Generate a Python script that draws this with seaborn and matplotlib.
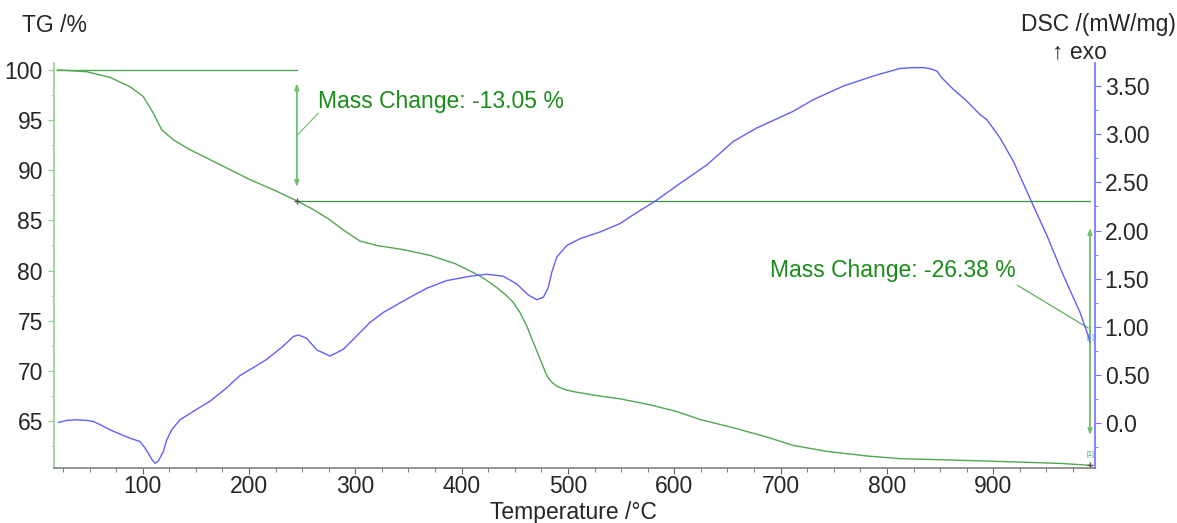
import numpy as np
import pandas as pd
import matplotlib
matplotlib.use("Agg")
import matplotlib.pyplot as plt
from matplotlib.ticker import MultipleLocator, FixedLocator, FuncFormatter
import seaborn as sns

# ---------------- data ----------------
tg_temp = [19.4, 22.3, 47.3, 69.2, 88.0, 100.6, 110.0, 117.9, 128.8, 144.5, 169.6, 200.9,
           226.1, 245.0, 257.6, 274.6, 290.3, 304.4, 320.1, 343.6, 370.3, 393.8, 404.8,
           417.3, 425.1, 433.0, 440.8, 448.6, 454.9, 461.2, 467.4, 473.8, 476.9, 480.1,
           484.8, 489.5, 497.3, 505.1, 527.1, 549.0, 577.3, 602.4,
           624.3, 655.6, 687.0, 712.0, 743.5, 781.1, 812.4, 859.5, 922.2, 964.5, 991.0]
tg_mass = [100.0, 100.0, 99.83, 99.27, 98.34, 97.35, 95.70, 94.04, 93.04, 92.05, 90.73, 89.07,
           87.90, 86.95, 86.26, 85.16, 83.93, 82.94, 82.50, 82.11, 81.51, 80.69, 80.12,
           79.45, 78.90, 78.30, 77.63, 76.81, 75.81, 74.48, 72.83, 71.17, 70.35, 69.51,
           68.86, 68.46, 68.12, 67.92, 67.52, 67.20, 66.60, 65.93,
           65.14, 64.31, 63.39, 62.55, 61.96, 61.50, 61.23, 61.10, 60.90, 60.75, 60.57]

dsc_temp = [20.6, 28.5, 37.9, 47.3, 53.5, 61.4, 69.2, 78.7, 88.1, 97.5, 101.2, 105.3, 108.5,
            111.6, 114.7, 119.4, 122.6, 127.3, 135.1, 147.6,
            163.3, 179.0, 191.5, 204.0, 216.6, 232.3, 241.7, 246.4, 254.3, 263.7, 276.2,
            288.7, 301.3, 313.8, 326.3, 348.4, 367.2, 386.0, 407.9, 423.6, 439.2, 451.8,
            462.7, 470.6, 476.9, 481.6, 484.8, 489.5, 498.9, 511.4, 530.2, 549.0, 558.4,
            583.5, 605.5, 630.6, 655.6, 677.6, 712.0, 730.9, 759.1, 787.3, 812.4, 824.9,
            834.3, 840.6, 846.9, 851.6, 862.6, 875.2, 887.6, 894.0, 906.5, 919.0, 934.7,
            950.4, 966.0, 981.6, 989.4, 991.0]
dsc_val = [0.006, 0.027, 0.034, 0.027, 0.017, -0.025, -0.070, -0.115, -0.157, -0.192, -0.244,
           -0.313, -0.376, -0.418, -0.394, -0.297, -0.175, -0.070, 0.034, 0.121,
           0.226, 0.366, 0.494, 0.575, 0.661, 0.800, 0.899, 0.915, 0.880, 0.760, 0.696,
           0.766, 0.905, 1.045, 1.149, 1.288, 1.400, 1.480, 1.525, 1.546, 1.525, 1.445,
           1.330, 1.281, 1.306, 1.411, 1.567, 1.724, 1.845, 1.915, 1.985, 2.072, 2.142,
           2.316, 2.490, 2.681, 2.926, 3.065, 3.239, 3.360, 3.501, 3.605, 3.684, 3.692,
           3.692, 3.681, 3.657, 3.587, 3.465, 3.344, 3.204, 3.152, 2.960, 2.717, 2.330,
           1.950, 1.532, 1.150, 0.905, 0.836]

x_ticks = [100, 200, 300, 400, 500, 600, 700, 800, 900]
tg_ticks = [65, 70, 75, 80, 85, 90, 95, 100]
dsc_ticks = [0.0, 0.5, 1.0, 1.5, 2.0, 2.5, 3.0, 3.5]

step1_start, step1_end, step1_temp = 100.0, 86.95, 245.0
step2_end, step2_temp = 60.57, 991.0
label1 = "Mass Change: -13.05 %"
label2 = "Mass Change: -26.38 %"

# ---------------- style ----------------
sns.set_style("white")
plt.rcParams['font.family'] = ['Liberation Sans', 'DejaVu Sans']
FS = 16.5

GREEN = '#4fa84f'
TXTGREEN = '#1a8c1a'
BLUE = '#6060f8'

fig = plt.figure(figsize=(11.77, 5.23), dpi=100)
ax = fig.add_axes([54/1177, 1-468/523, (1095-54)/1177, (468-63)/523])
ax2 = ax.twinx()

tg_df = pd.DataFrame({'T': tg_temp, 'TG': tg_mass})
dsc_df = pd.DataFrame({'T': dsc_temp, 'DSC': dsc_val})
sns.lineplot(data=tg_df, x='T', y='TG', ax=ax, color=GREEN, lw=1.0, sort=False)
sns.lineplot(data=dsc_df, x='T', y='DSC', ax=ax2, color=BLUE, lw=1.0, sort=False)

ax.set_xlim(16.6, 995.7)
ax.set_ylim(60.3, 100.7)
ax2.set_ylim(-0.467, 3.74)

ax.set_xlabel('')
ax.set_ylabel('')
ax2.set_ylabel('')

ax.xaxis.set_major_locator(FixedLocator(x_ticks))
ax.xaxis.set_minor_locator(MultipleLocator(25))
ax.yaxis.set_major_locator(FixedLocator(tg_ticks))
ax.yaxis.set_minor_locator(MultipleLocator(2.5))
ax2.yaxis.set_major_locator(FixedLocator(dsc_ticks))
ax2.yaxis.set_minor_locator(MultipleLocator(0.25))
ax2.yaxis.set_major_formatter(FuncFormatter(lambda v, p: '0.0' if abs(v) < 1e-9 else f'{v:.2f}'))

for a in (ax, ax2):
    a.spines['top'].set_visible(False)
ax.spines['right'].set_visible(False)
ax2.spines['left'].set_visible(False)
ax2.spines['bottom'].set_visible(False)
ax.spines['left'].set_color('#8fd08f')
ax.spines['bottom'].set_color('#808080')
ax2.spines['right'].set_color('#7070ff')
for s in ('left', 'bottom'):
    ax.spines[s].set_linewidth(1.2)
ax2.spines['right'].set_linewidth(1.2)

ax.tick_params(axis='x', which='major', direction='out', length=4, width=0.8, color='#606060',
               labelsize=FS, pad=1, bottom=True)
ax.tick_params(axis='x', which='minor', direction='out', length=3, width=0.6, color='#606060', bottom=True)
ax.tick_params(axis='y', which='major', direction='out', length=4, width=0.8, color='#8fd08f',
               labelsize=FS, pad=4, left=True)
ax.tick_params(axis='y', which='minor', direction='out', length=2, width=0.6, color='#8fd08f', left=True)
ax2.tick_params(axis='y', which='major', direction='out', length=4, width=0.8, color='#7070ff',
                labelsize=FS, pad=3, right=True)
ax2.tick_params(axis='y', which='minor', direction='out', length=2, width=0.6, color='#7070ff', right=True)

# ---------------- annotations ----------------
ax.plot([tg_temp[0], step1_temp], [step1_start, step1_start], color=GREEN, lw=1.0)
ax.plot([step1_temp, step2_temp], [step1_end, step1_end], color='#3c963c', lw=0.9)
arrow_kw = dict(arrowstyle='<->,head_length=0.35,head_width=0.12', color='#6cbf6c', lw=1.3,
                shrinkA=0, shrinkB=0)
ax.annotate('', xy=(step1_temp, 88.3), xytext=(step1_temp, 98.7), arrowprops=arrow_kw)
ax.annotate('', xy=(step2_temp, 63.55), xytext=(step2_temp, 84.27), arrowprops=arrow_kw)
ax.plot([265.2, 245.8], [95.70, 93.54], color='#6cbf6c', lw=0.8)
ax.plot([922.7, 989.5], [78.53, 74.25], color='#4fa84f', lw=0.8)
ax.text(265.2, 96.85, label1, color=TXTGREEN, fontsize=FS, ha='left', va='center')
ax.text(920.7, 80.0, label2, color=TXTGREEN, fontsize=FS, ha='right', va='center')
ax.plot([step1_temp], [step1_end], marker='+', color='#555555', ms=5, mew=1)
ax.plot([step2_temp], [step2_end], marker='+', color='#555555', ms=5, mew=1)
ax.text(step2_temp, 73.3, '[1]', color='#50a0d8', fontsize=5, ha='center', va='center')
ax.text(step2_temp, 61.6, '[1]', color='#40a080', fontsize=5, ha='center', va='center')

# ---------------- titles ----------------
fig.text(21.7/1177, 1-25/523, 'TG /%', fontsize=FS, ha='left', va='center')
fig.text(1176/1177, 1-25/523, 'DSC /(mW/mg)', fontsize=FS, ha='right', va='center')
fig.text(1079/1177, 1-51.7/523, '↑ exo', fontsize=FS, ha='center', va='center')
fig.text(573/1177, 1-513/523, 'Temperature /°C', fontsize=FS, ha='center', va='center')

fig.savefig('out.png', dpi=100)
